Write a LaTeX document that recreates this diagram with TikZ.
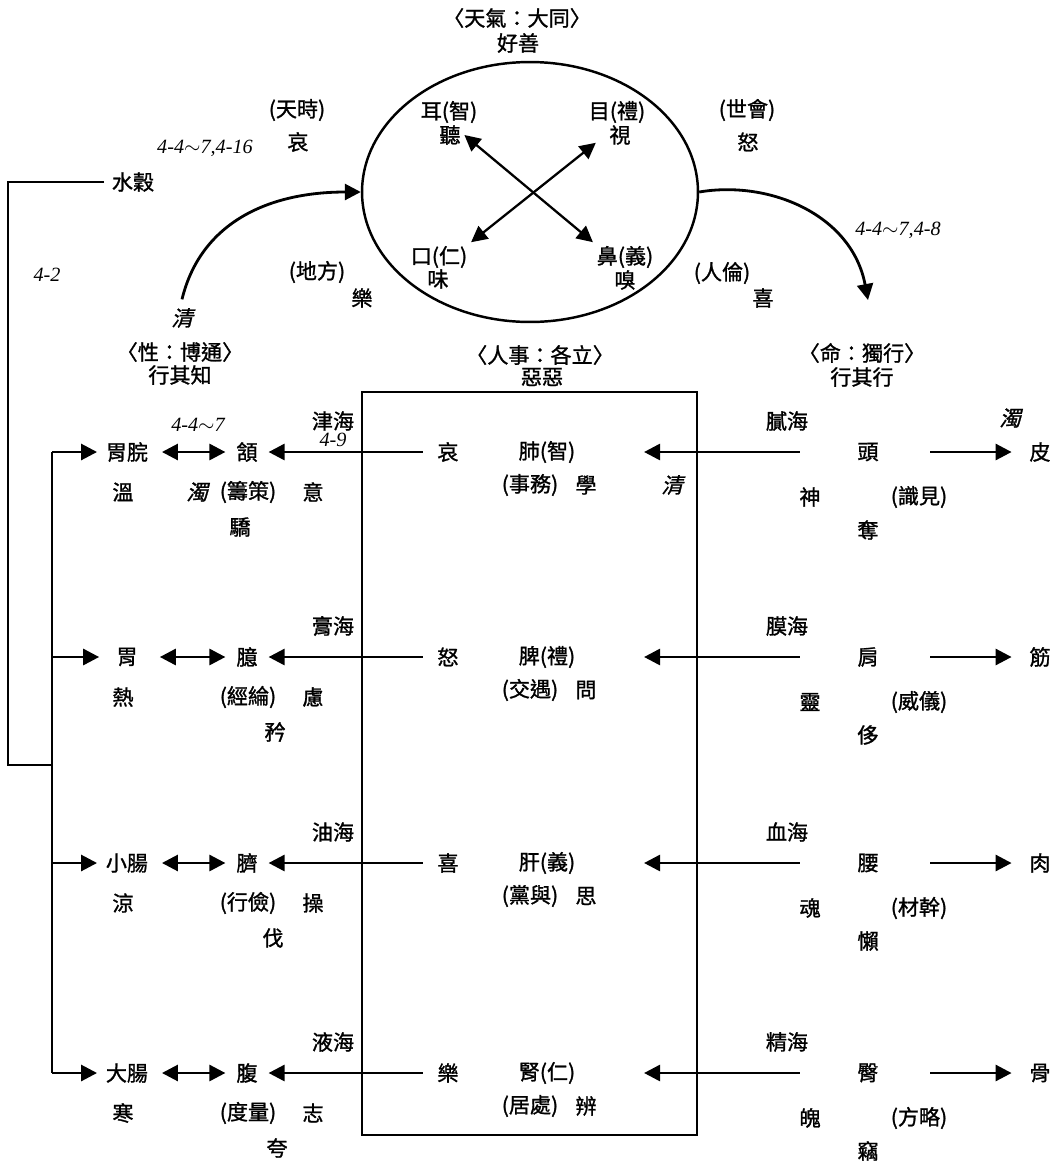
\documentclass[tikz,border=0pt]{standalone}
\usepackage{fontspec}
\usepackage{tikz}
\usetikzlibrary{shapes.geometric,arrows.meta,positioning}
\newfontfamily\cjk{Noto Sans CJK TC}[FakeBold=1.2]
\newfontfamily\cjkslant{Noto Sans CJK TC}[FakeSlant=0.25,FakeBold=1.2]
\newfontfamily\refit{Liberation Serif}
\tikzstyle{arrow} = [-{Triangle[length=3.2mm,width=3.2mm]}, line width=1.6pt]
\tikzstyle{biarrow} = [{Triangle[length=3.2mm,width=3.2mm]}-{Triangle[length=3.2mm,width=3.2mm]}, line width=1.6pt]
\tikzstyle{plain} = [line width=1.6pt]
\tikzstyle{txt} = [font=\cjk\fontsize{12}{14}\selectfont, inner sep=2pt]
\tikzstyle{slant} = [font=\cjkslant\fontsize{12}{14}\selectfont, inner sep=2pt]
\tikzstyle{refno} = [font=\refit\itshape\fontsize{11.5}{13}\selectfont, inner sep=1pt]
\tikzstyle{colA} = [txt, minimum width=0.9cm]
\tikzstyle{colB} = [txt, minimum width=0.85cm]

\begin{document}
\begin{tikzpicture}[x=0.02cm, y=-0.02cm]
\useasboundingbox (0,0) rectangle (1064,1164);

% heaven
\node[txt] (heavenT) at (517,18) {〈天氣：大同〉};
\node[txt] (heavenG) at (518,43) {好善};
\node[ellipse, draw, line width=1.4pt, minimum width=6.72cm, minimum height=5.2cm] (heaven) at (530,192) {};
\node[txt] (ear) at (449,112) {耳(智)};
\node[txt] (listen) at (450,135) {聽};
\node[txt] (eye) at (617,112) {目(禮)};
\node[txt] (look) at (620,135) {視};
\node[txt] (mouth) at (439,257) {口(仁)};
\node[txt] (taste) at (438,279) {味};
\node[txt] (nose) at (625,257) {鼻(義)};
\node[txt] (smell) at (625,280) {嗅};
\draw[biarrow, line width=1.3pt] (listen.east) -- (nose.north west);
\draw[biarrow, line width=1.3pt, shorten <=0.25cm] (look.west) -- (mouth.north east);

\node[txt] (timeL) at (297,110) {(天時)};
\node[txt] (timeE) at (298,142) {哀};
\node[txt] (worldL) at (747,110) {(世會)};
\node[txt] (worldE) at (748,142) {怒};
\node[txt] (landL) at (317,272) {(地方)};
\node[txt] (landE) at (362,298) {樂};
\node[txt] (humanL) at (722,273) {(人倫)};
\node[txt] (humanE) at (763,298) {喜};
\node[refno] (refA) at (205,148) {4-4$\sim$7,4-16};
\node[refno] (refB) at (898,230) {4-4$\sim$7,4-8};
\node[refno] (refC) at (47,275) {4-2};

% three heads
\node[slant] (clear) at (182,318) {清};
\node[txt] (nature) at (180,352) {〈性：博通〉};
\node[txt] (natureA) at (180,375) {行其知};
\node[txt] (affair) at (540,355) {〈人事：各立〉};
\node[txt] (affairA) at (542,377) {惡惡};
\node[txt] (fate) at (862,353) {〈命：獨行〉};
\node[txt] (fateA) at (862,377) {行其行};
\coordinate (fateIn) at (868,300);
\draw[arrow] ([yshift=0.1cm]clear.north) .. controls (200,225) and (265,192) .. (heaven.west);
\draw[arrow] (heaven.east) .. controls (770,180) and (852,215) .. (fateIn);

% grain line
\node[txt] (grain) at (133,182) {水穀};
\draw[plain] ([xshift=-0.08cm]grain.west) -| (8,765) -- (52,765);

\draw[line width=1.3pt] (362,392) rectangle (697,1135);

\foreach \i/\y/\organ/\heat/\face/\sea/\plan/\mind/\vice/\vx in {1/452/胃脘/溫/頷/津海/籌策/意/驕/240,2/657/胃/熱/臆/膏海/經綸/慮/矜/275,3/863/小腸/涼/臍/油海/行儉/操/伐/273,4/1073/大腸/寒/腹/液海/度量/志/夸/277}{
  \coordinate (b\i) at (52,\y);
  \node[colA] (org\i) at (127,\y) {\organ};
  \node[colB] (face\i) at (247,\y) {\face};
  \node[txt] (heat\i) at (123,\y+40) {\heat};
  \node[txt] (plan\i) at (248,\y+40) {(\plan)};
  \node[txt] (mind\i) at (313,\y+40) {\mind};
  \node[txt] (vice\i) at (\vx,\y+75) {\vice};
  \node[txt] (sea\i) at (333,\y-31) {\sea};
  \draw[arrow, shorten >=0.1cm] (b\i) -- (org\i);
  \draw[biarrow, shorten <=0.2cm] (org\i) -- (face\i);
}
\draw[plain] (b1) -- (b4);

\foreach \i/\y/\emo/\zang/\deal/\study in {1/452/哀/肺(智)/事務/學,2/657/怒/脾(禮)/交遇/問,3/863/喜/肝(義)/黨與/思,4/1073/樂/腎(仁)/居處/辨}{
  \node[txt] (emo\i) at (448,\y) {\emo};
  \node[txt] (zang\i) at (547,\y) {\zang};
  \node[txt] (deal\i) at (530,\y+33) {(\deal)};
  \node[txt] (study\i) at (586,\y+33) {\study};
  \draw[arrow, shorten <=0.22cm] (emo\i) -- (face\i);
}

\foreach \i/\y/\sea/\body/\spirit/\view/\loss/\tissue in {1/452/膩海/頭/神/識見/奪/皮,2/657/膜海/肩/靈/威儀/侈/筋,3/863/血海/腰/魂/材幹/懶/肉,4/1073/精海/臀/魄/方略/竊/骨}{
  \node[txt] (seaR\i) at (787,\y-31) {\sea};
  \node[txt] (body\i) at (868,\y) {\body};
  \node[txt] (spirit\i) at (810,\y+45) {\spirit};
  \node[txt] (view\i) at (919,\y+45) {(\view)};
  \node[txt] (loss\i) at (868,\y+78) {\loss};
  \node[txt] (tissue\i) at (1040,\y) {\tissue};
  \draw[arrow, shorten <=1.08cm, shorten >=1.3cm] (body\i) -- (zang\i);
  \draw[arrow, shorten <=0.96cm, shorten >=0.28cm] (body\i) -- (tissue\i);
}

\node[slant] (muddyL) at (197,492) {濁};
\node[slant] (clearC) at (672,485) {清};
\node[slant] (muddyR) at (1010,418) {濁};
\node[refno] (refD) at (198,425) {4-4$\sim$7};
\node[refno] (refE) at (333,440) {4-9};
\end{tikzpicture}
\end{document}
